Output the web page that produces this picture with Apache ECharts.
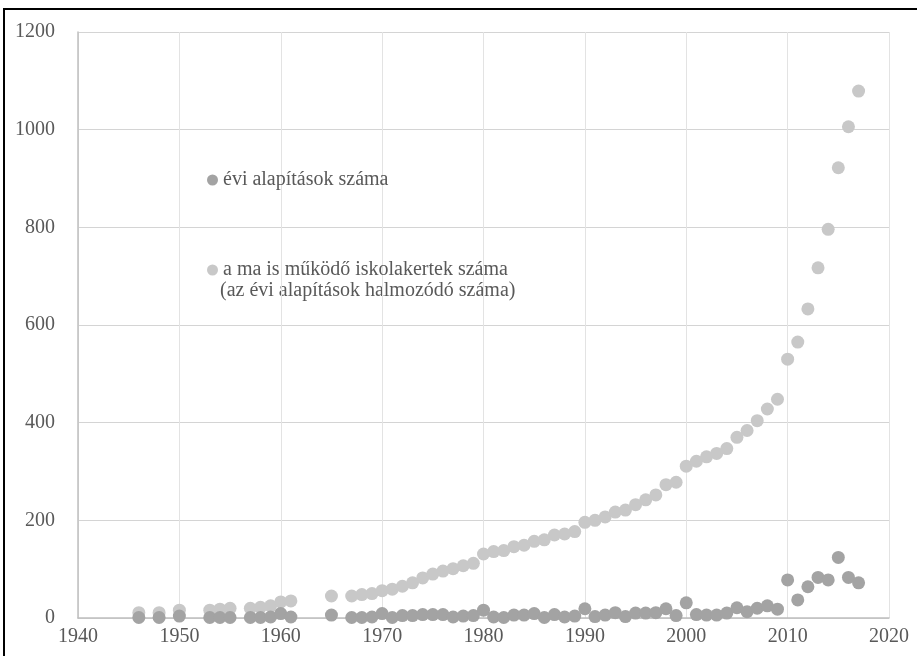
<!DOCTYPE html>
<html>
<head>
<meta charset="utf-8">
<script src="https://cdn.jsdelivr.net/npm/echarts@6/dist/echarts.min.js"></script>
<style>
html,body{margin:0;padding:0;background:#fff;}
#c{width:917px;height:656px;}
</style>
</head>
<body>
<div id="c"></div>
<script>
var years = [1946,1948,1950,1953,1954,1955,1957,1958,1959,1960,1961,1965,
  1967,1968,1969,1970,1971,1972,1973,1974,1975,1976,1977,1978,1979,
  1980,1981,1982,1983,1984,1985,1986,1987,1988,1989,
  1990,1991,1992,1993,1994,1995,1996,1997,1998,1999,
  2000,2001,2002,2003,2004,2005,2006,2007,2008,2009,
  2010,2011,2012,2013,2014,2015,2016,2017];
var annualFoundings = [1,1,4,1,1,1,1,1,2,9,2,6,
  1,1,2,9,1,5,5,7,7,7,2,4,5,
  16,2,1,6,6,9,1,7,2,4,
  19,3,6,11,3,10,10,11,19,5,
  31,7,6,6,10,21,13,20,25,18,
  78,37,64,83,78,124,83,72];
var operatingGardens = [11,11,16,16,18,20,20,22,25,33,35,45,
  45,48,50,56,59,65,72,82,90,96,101,107,112,
  131,136,138,146,149,157,160,170,172,177,
  196,200,207,217,221,232,242,252,273,278,
  311,321,330,337,347,370,384,404,428,448,
  530,565,633,717,796,922,1006,1079];
var nameAnnual = 'évi alapítások száma';
var nameCum = 'a ma is működő iskolakertek száma';
var nameCumNote = '(az évi alapítások halmozódó száma)';

function pairs(xs, ys){ return xs.map(function(x,i){ return [x, ys[i]]; }); }
function plain(v){ return String(v); }

var font = 'Liberation Serif';
var txt = '#595959';
var chart = echarts.init(document.getElementById('c'));
chart.setOption({
  animation: false,
  backgroundColor: '#fff',
  grid: {left: 78, right: 28, top: 32, bottom: 38, containLabel: false},
  xAxis: {
    type: 'value', min: 1940, max: 2020, interval: 10,
    axisLine: {show: true, lineStyle: {color: '#bfbfbf', width: 1.5}},
    axisTick: {show: false},
    axisLabel: {color: txt, fontFamily: font, fontSize: 20, margin: 9, formatter: plain},
    splitLine: {show: true, lineStyle: {color: '#e3e3e3', width: 1}}
  },
  yAxis: {
    type: 'value', min: 0, max: 1200, interval: 200,
    axisLine: {show: true, lineStyle: {color: '#bfbfbf', width: 1.5}},
    axisTick: {show: false},
    axisLabel: {color: txt, fontFamily: font, fontSize: 20, margin: 23, formatter: plain},
    splitLine: {show: true, lineStyle: {color: '#d4d4d4', width: 1}}
  },
  legend: [
    {data: [nameAnnual], left: 202, top: 165, icon: 'circle', itemWidth: 11, itemHeight: 11,
     textStyle: {color: txt, fontFamily: font, fontSize: 20}},
    {data: [nameCum], left: 202, top: 255, icon: 'circle', itemWidth: 11, itemHeight: 11,
     textStyle: {color: txt, fontFamily: font, fontSize: 20}}
  ],
  graphic: [
    {type: 'text', left: 220, top: 281, style: {text: nameCumNote, fill: txt, font: '20px "Liberation Serif"'}},
    {type: 'rect', shape: {x: 4, y: 9, width: 940, height: 700}, style: {fill: 'none', stroke: '#000', lineWidth: 2}, silent: true}
  ],
  series: [
    {name: nameCum, type: 'scatter', data: pairs(years, operatingGardens), symbolSize: 13,
     itemStyle: {color: '#c8c8c8', opacity: 1}},
    {name: nameAnnual, type: 'scatter', data: pairs(years, annualFoundings), symbolSize: 13,
     itemStyle: {color: '#a3a3a3', opacity: 1}}
  ]
});
</script>
</body>
</html>
